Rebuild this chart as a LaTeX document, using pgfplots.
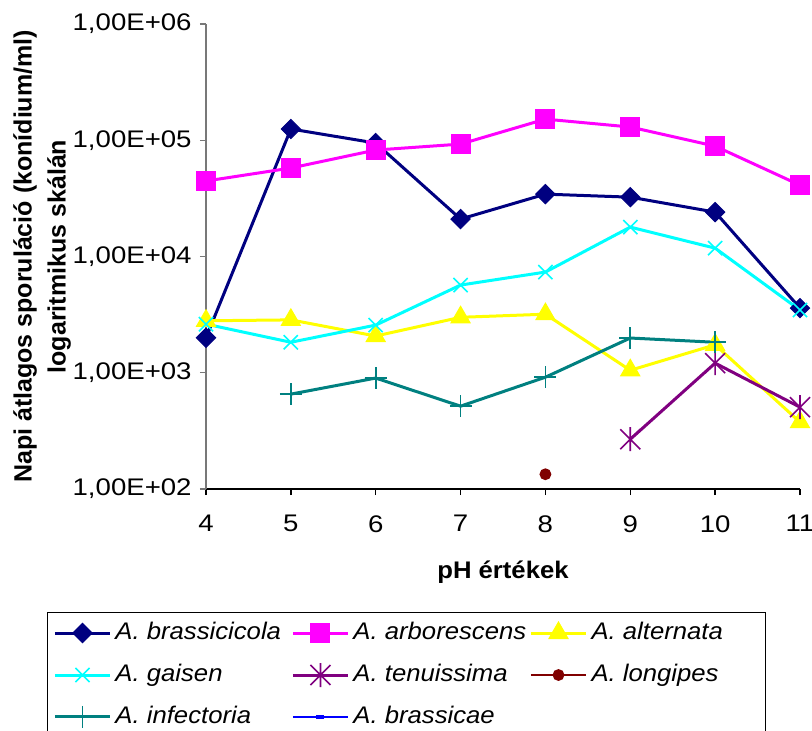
\documentclass[border=0pt,12pt]{standalone}
\usepackage{fontspec}
\setmainfont{Liberation Sans}[FakeStretch=1.07]
\newfontfamily\tickfont{Liberation Sans}[FakeStretch=1.15]
\newfontfamily\labfont{Liberation Sans}
\usepackage{pgfplots}
\pgfplotsset{compat=1.18}
\definecolor{cNavy}{RGB}{0,0,128}
\definecolor{cMag}{RGB}{255,0,255}
\definecolor{cYel}{RGB}{255,255,0}
\definecolor{cCyan}{RGB}{0,255,255}
\definecolor{cPurp}{RGB}{128,0,128}
\definecolor{cDred}{RGB}{128,0,0}
\definecolor{cTeal}{RGB}{0,128,128}
\definecolor{cBlue}{RGB}{0,0,255}
\definecolor{cAxGray}{RGB}{120,120,120}
\pgfdeclareplotmark{xstar}{%
  \pgfpathmoveto{\pgfqpoint{-\pgfplotmarksize}{-\pgfplotmarksize}}%
  \pgfpathlineto{\pgfqpoint{\pgfplotmarksize}{\pgfplotmarksize}}%
  \pgfpathmoveto{\pgfqpoint{-\pgfplotmarksize}{\pgfplotmarksize}}%
  \pgfpathlineto{\pgfqpoint{\pgfplotmarksize}{-\pgfplotmarksize}}%
  \pgfpathmoveto{\pgfqpoint{0pt}{-1.2\pgfplotmarksize}}%
  \pgfpathlineto{\pgfqpoint{0pt}{1.2\pgfplotmarksize}}%
  \pgfusepathqstroke}
\newcommand{\lent}[1]{\makebox[82pt][l]{\itshape #1}}
\begin{document}
\begin{tikzpicture}
\begin{axis}[
  name=ax,
  scale only axis,
  width=297pt, height=232.5pt,
  xmin=4, xmax=11, ymode=log, ymin=100, ymax=1000000,
  clip=false,
  axis x line*=bottom, axis y line*=left,
  x axis line style={black, line width=0.7pt},
  y axis line style={cAxGray, line width=0.7pt},
  xtick={4,5,6,7,8,9,10,11},
  ytick={100,1000,10000,100000,1000000},
  yticklabels={{1,00E+02},{1,00E+03},{1,00E+04},{1,00E+05},{1,00E+06}},
  yminorticks=false,
  tick align=outside, major tick length=3pt,
  xtick style={black, line width=0.7pt},
  ytick style={cAxGray, line width=0.7pt},
  /pgf/number format/assume math mode=true,
  tick label style={font=\tickfont},
  xticklabel style={yshift=-6pt},
  yticklabel style={xshift=0pt},
  xlabel={\textbf{pH értékek}},
  xlabel style={yshift=-6pt},
  ylabel={\textbf{Napi átlagos sporuláció (konídium/ml)}\\[2pt]\textbf{logaritmikus skálán}},
  every axis y label/.style={at={(axis description cs:0,0.5)}, xshift=-82pt, rotate=90, anchor=center,
    align=center, font=\labfont\fontsize{12.5}{15}\selectfont},
  legend columns=3,
  legend style={at={(0,0)}, anchor=north west, xshift=-79.5pt, yshift=-61.5pt,
    draw=black, line width=0.5pt, inner sep=3pt,
    /tikz/every even column/.append style={column sep=4pt},
    row sep=6.5pt},
  legend cell align=left,
  legend image code/.code={\draw[mark repeat=2,mark phase=2] plot coordinates {(0pt,0pt)(13.75pt,0pt)(27.5pt,0pt)};},
]
\addplot[cNavy, line width=1.5pt, mark=square*, mark size=3.4pt, mark options={rotate=45, line width=0.5pt}]
  coordinates {(4,2000)(5,125000)(6,94600)(7,21000)(8,34400)(9,32400)(10,24100)(11,3600)};
\addlegendentry{\lent{A. brassicicola}}
\addplot[cMag, line width=1.5pt, mark=square*, mark size=4.75pt, mark options={line width=0.5pt}]
  coordinates {(4,44600)(5,57700)(6,82400)(7,92700)(8,152000)(9,130000)(10,89000)(11,41100)};
\addlegendentry{\lent{A. arborescens}}
\addplot[cYel, line width=1.5pt, mark=triangle*, mark size=5.5pt, mark options={line width=0.5pt}]
  coordinates {(4,2800)(5,2850)(6,2070)(7,3000)(8,3190)(9,1050)(10,1740)(11,376)};
\addlegendentry{\lent{A. alternata}}
\addplot[cCyan, line width=1.5pt, mark=x, mark size=5pt, mark options={line width=0.8pt}]
  coordinates {(4,2620)(5,1830)(6,2570)(7,5680)(8,7350)(9,17900)(10,11800)(11,3460)};
\addlegendentry{\lent{A. gaisen}}
\addplot[cPurp, line width=1.5pt, mark=xstar, mark size=5pt, mark options={line width=0.8pt}]
  coordinates {(9,268)(10,1210)(11,506)};
\addlegendentry{\lent{A. tenuissima}}
\addplot[cDred, line width=0.7pt, mark=*, mark size=2.6pt]
  coordinates {(8,134)};
\addlegendentry{\lent{A. longipes}}
\addplot[cTeal, line width=1.5pt, mark=+, mark size=5.5pt, mark options={line width=0.8pt}]
  coordinates {(5,655)(6,900)(7,516)(8,916)(9,1990)(10,1830)};
\addlegendentry{\lent{A. infectoria}}
\addlegendimage{cBlue, line width=0.7pt, mark=-, mark size=2pt, mark options={line width=2pt}}
\addlegendentry{\lent{A. brassicae}}
\end{axis}
\pgfresetboundingbox
\path ([shift={(-103pt,-120.5pt)}]ax.south west) rectangle ([shift={(303pt,244.5pt)}]ax.south west);
\end{tikzpicture}
\end{document}
